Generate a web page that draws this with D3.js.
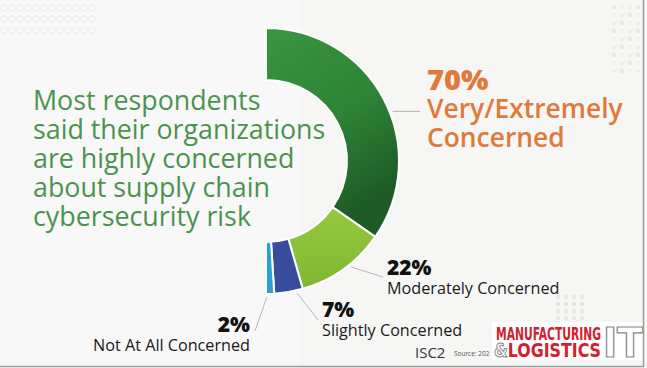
<!DOCTYPE html>
<html>
<head>
<meta charset="utf-8">
<script src="https://cdn.jsdelivr.net/npm/d3@7"></script>
<style>
  html, body { margin: 0; padding: 0; background: #ffffff; }
  svg { display: block; }
</style>
</head>
<body>
<svg id="chart" width="647" height="368"></svg>
<script>
// ---- data ----
const categories = ["Very/Extremely Concerned", "Moderately Concerned", "Slightly Concerned", "Not At All Concerned"];
const values = [70, 22, 7, 2];
const valueLabels = ["70%", "22%", "7%", "2%"];
const titleLines = ["Most respondents", "said their organizations", "are highly concerned", "about supply chain", "cybersecurity risk"];
const sourceText = "Source: 202";
const brandText = "ISC2";

// ---- layout ----
const W = 647, H = 368;
const cx = 266, cy = 161, rOuter = 133, rInner = 81;
const colors = ["url(#gDark)", "url(#gLight)", "#3a4c9c", "#2aa2d4"];

const svg = d3.select("#chart");
const defs = svg.append("defs");
const g1 = defs.append("linearGradient").attr("id", "gDark").attr("x1", 0).attr("y1", 0).attr("x2", 0.4).attr("y2", 1);
g1.append("stop").attr("offset", "0%").attr("stop-color", "#3a9541");
g1.append("stop").attr("offset", "55%").attr("stop-color", "#2e8335");
g1.append("stop").attr("offset", "100%").attr("stop-color", "#1d5a25");
const g2 = defs.append("linearGradient").attr("id", "gLight").attr("x1", 0).attr("y1", 0).attr("x2", 0).attr("y2", 1);
g2.append("stop").attr("offset", "0%").attr("stop-color", "#95c93e");
g2.append("stop").attr("offset", "100%").attr("stop-color", "#80b630");

// background
svg.append("rect").attr("width", W).attr("height", H).attr("fill", "#f6f6f5");
svg.append("rect").attr("x", 0).attr("y", 0).attr("width", 300).attr("height", H).attr("fill", "#fafafa").attr("opacity", 0.7);

// faint decorative dots
const deco = svg.append("g").attr("fill", "none");
d3.range(3).forEach(r => d3.range(12).forEach(c => {
  deco.append("circle").attr("cx", 4 + c * 8).attr("cy", 8 + r * 11).attr("r", 3.2)
    .attr("stroke", "#ececec").attr("stroke-width", 1);
}));
d3.range(9).forEach(r => d3.range(4).forEach(c => {
  svg.append("rect").attr("x", 612 + c * 8).attr("y", 5 + r * 8).attr("width", 4).attr("height", 4)
    .attr("fill", (r + c) % 3 === 0 ? "#e6ebdc" : "#eef0ea");
}));
d3.range(4).forEach(r => d3.range(4).forEach(c => {
  svg.append("rect").attr("x", 556 + c * 8).attr("y", 295 + r * 7).attr("width", 4).attr("height", 4)
    .attr("fill", "#e8ecdf");
}));

// ---- donut ----
const pie = d3.pie().sort(null).startAngle(0).endAngle(Math.PI).value(d => d);
const arcs = pie(values);
const arc = d3.arc().innerRadius(rInner).outerRadius(rOuter);

const donut = svg.append("g").attr("transform", `translate(${cx},${cy})`);
donut.selectAll("path").data(arcs).join("path")
  .attr("d", arc)
  .attr("fill", (d, i) => colors[i])
  .attr("stroke", "#ffffff")
  .attr("stroke-width", 2)
  .attr("stroke-linejoin", "round");

// ---- leader lines ----
const pointAt = (a, r) => [cx + r * Math.sin(a), cy - r * Math.cos(a)];
const leaderFrac = [0.55, 0.42, 0.22, 0.9];
const leaderEnds = [[420, null], [383, 277], [318, 320], [255, 331]];
arcs.forEach((d, i) => {
  const a = d.startAngle + (d.endAngle - d.startAngle) * leaderFrac[i];
  const p0 = pointAt(a, rOuter + 3);
  const p1 = [leaderEnds[i][0], leaderEnds[i][1] === null ? p0[1] : leaderEnds[i][1]];
  svg.append("line").attr("x1", p0[0]).attr("y1", p0[1]).attr("x2", p1[0]).attr("y2", p1[1])
    .attr("stroke", "#b5b5b5").attr("stroke-width", 1);
});

// ---- title ----
const title = svg.append("text")
  .attr("font-family", "'Open Sans', sans-serif")
  .attr("font-size", 26.8)
  .attr("fill", "#4a934d");
titleLines.forEach((t, i) => {
  title.append("tspan").attr("x", 33).attr("y", 110 + i * 29).text(t);
});

// ---- labels ----
const orange = "#e07a3a";
svg.append("text").attr("x", 427).attr("y", 90)
  .attr("font-family", "'Open Sans', sans-serif").attr("font-weight", 800).attr("font-size", 29)
  .attr("fill", orange).text(valueLabels[0]);
const big = svg.append("text").attr("font-family", "'Open Sans', sans-serif").attr("font-weight", 600)
  .attr("font-size", 26.4).attr("fill", orange);
const bigLines = ["Very/Extremely", "Concerned"];
bigLines.forEach((t, i) => big.append("tspan").attr("x", 427).attr("y", 118 + i * 29).text(t));

const smallLabels = [
  null,
  { x: 387, y1: 275, y2: 294, anchor: "start" },
  { x: 322, y1: 317, y2: 336, anchor: "start" },
  { x: 250, y1: 332, y2: 351, anchor: "end" }
];
smallLabels.forEach((p, i) => {
  if (!p) return;
  svg.append("text").attr("x", p.x).attr("y", p.y1).attr("text-anchor", p.anchor)
    .attr("font-family", "'Open Sans', sans-serif").attr("font-weight", 800).attr("font-size", 21)
    .attr("fill", "#111111").text(valueLabels[i]);
  svg.append("text").attr("x", p.x).attr("y", p.y2).attr("text-anchor", p.anchor)
    .attr("font-family", "'Open Sans', sans-serif").attr("font-size", 16.2)
    .attr("fill", "#1a1a1a").text(categories[i]);
});

// ---- footer: brand + source ----
svg.append("text").attr("x", 415).attr("y", 358)
  .attr("font-family", "'Open Sans', sans-serif").attr("font-size", 15)
  .attr("fill", "#333333").text(brandText);
svg.append("text").attr("x", 454).attr("y", 356)
  .attr("font-family", "'Open Sans', sans-serif").attr("font-size", 6.5)
  .attr("fill", "#555555").text(sourceText);

// ---- logo ----
const logo = svg.append("g");
logo.append("rect").attr("x", 492).attr("y", 322).attr("width", 152).attr("height", 38).attr("fill", "#ffffff");
const cond = "'Liberation Sans Narrow', 'DejaVu Sans Condensed', 'Liberation Sans', sans-serif";
logo.append("text").attr("x", 496).attr("y", 340)
  .attr("font-family", cond).attr("font-weight", 700).attr("font-size", 18)
  .attr("textLength", 105).attr("lengthAdjust", "spacingAndGlyphs")
  .attr("fill", "#d4202c").text("MANUFACTURING");
const lg = logo.append("text").attr("x", 494).attr("y", 357)
  .attr("font-family", cond).attr("font-weight", 700).attr("font-size", 19)
  .attr("textLength", 107).attr("lengthAdjust", "spacingAndGlyphs");
lg.append("tspan").attr("fill", "#ffffff").attr("stroke", "#888888").attr("stroke-width", 1).text("&");
lg.append("tspan").attr("fill", "#d4202c").text("LOGISTICS");
logo.append("text").attr("x", 603).attr("y", 357)
  .attr("font-family", cond).attr("font-weight", 700).attr("font-size", 40)
  .attr("textLength", 40).attr("lengthAdjust", "spacingAndGlyphs")
  .attr("fill", "#ffffff").attr("stroke", "#8a8a8a").attr("stroke-width", 1.2).text("IT");

// ---- frame (right and bottom edge shadow) ----
svg.append("path").attr("d", `M643.5,0 V366.5 H0`).attr("fill", "none")
  .attr("stroke", "#9c9c9c").attr("stroke-width", 1.5);
</script>
</body>
</html>
